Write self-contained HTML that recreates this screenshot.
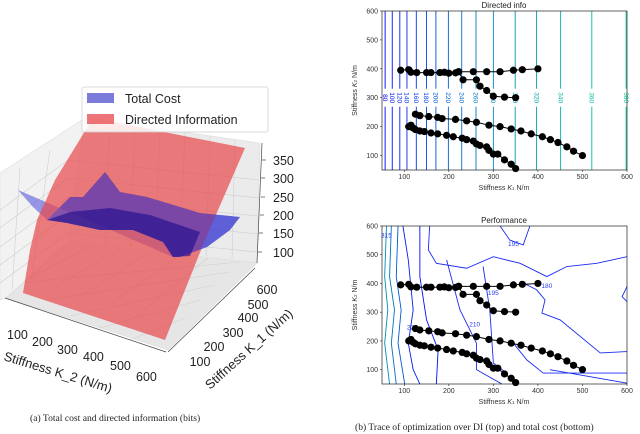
<!DOCTYPE html>
<html><head><meta charset="utf-8"><style>
body{margin:0;background:#fff;width:640px;height:434px;overflow:hidden}
svg{display:block}
text{font-family:"Liberation Sans","DejaVu Sans",sans-serif}
.cap{font-family:"Liberation Serif",serif;font-size:9.6px;fill:#222}
.tk{font-size:7px;fill:#333}
</style></head><body>
<svg id="s" width="640" height="434" viewBox="0 0 640 434">
<g>
 <polygon points="0,173 85,118 68,242 7,297 0,300" fill="#f2f2f2" stroke="#ddd" stroke-width="0.6"/>
 <polygon points="85,118 260,143 257,263 68,242" fill="#ebebeb" stroke="#ddd" stroke-width="0.6"/>
 <polygon points="7,298 68,242 257,263 168,350" fill="#e6e6e6" stroke="#ddd" stroke-width="0.6"/>
 <g stroke="#cfcfcf" stroke-width="0.6" fill="none">
  <line x1="110" y1="122" x2="105" y2="244"/><line x1="135" y1="125" x2="130" y2="247"/><line x1="160" y1="129" x2="155" y2="250"/><line x1="185" y1="132" x2="180" y2="253"/><line x1="210" y1="136" x2="206" y2="256"/><line x1="235" y1="140" x2="232" y2="259"/>
  <line x1="68" y1="160" x2="259" y2="180"/><line x1="68" y1="178" x2="259" y2="198"/><line x1="68" y1="197" x2="258" y2="216"/><line x1="68" y1="215" x2="258" y2="234"/><line x1="68" y1="233" x2="257" y2="252"/>
  <line x1="0" y1="210" x2="68" y2="160"/><line x1="0" y1="228" x2="68" y2="178"/><line x1="0" y1="247" x2="68" y2="197"/><line x1="0" y1="265" x2="68" y2="215"/><line x1="0" y1="283" x2="68" y2="233"/>
  <line x1="50" y1="150" x2="32" y2="275"/><line x1="20" y1="168" x2="12" y2="290"/>
  <line x1="30" y1="278" x2="90" y2="246"/><line x1="56" y1="286" x2="120" y2="249"/><line x1="82" y1="295" x2="150" y2="252"/><line x1="108" y1="306" x2="180" y2="255"/><line x1="134" y1="318" x2="208" y2="258"/>
  <line x1="25" y1="282" x2="240" y2="262"/><line x1="45" y1="300" x2="230" y2="272"/><line x1="70" y1="316" x2="215" y2="285"/><line x1="100" y1="328" x2="200" y2="300"/><line x1="130" y1="340" x2="185" y2="318"/>
 </g>
 <polygon points="18,190 33,207 47,220 70,197 83,197 105,172 120,192 147,197 200,213 240,217 230,230 207,247 180,257 173,257" fill="#4a4ad8" fill-opacity="0.55"/>
 <polygon points="93,118 245,148 205,240 165,340 23,293 30,250 37,220 55,180" fill="#e8474a" fill-opacity="0.7"/>
 <polygon points="47,220 70,197 83,197 105,172 120,192 147,197 200,213 240,217 230,230 207,247 180,257 173,257 163,242 133,230 100,230 67,223" fill="#3535d0" fill-opacity="0.55"/>
 <polygon points="47,220 67,223 100,230 133,230 163,242 173,257 190,256 200,232 150,215 110,208 70,212" fill="#1a0a8a" fill-opacity="0.6"/>
 <g stroke="#444" stroke-width="0.7">
  <line x1="262" y1="143" x2="257" y2="263"/><line x1="5" y1="298" x2="166" y2="352"/><line x1="168" y1="352" x2="255" y2="268"/>
  <line x1="262" y1="160" x2="266" y2="160"/><line x1="261" y1="178" x2="265" y2="178"/><line x1="261" y1="197" x2="265" y2="197"/><line x1="260" y1="215" x2="264" y2="215"/><line x1="259" y1="233" x2="263" y2="233"/><line x1="258" y1="252" x2="262" y2="252"/>
 </g>
 <g font-size="12.5" fill="#222">
  <text x="273" y="165">350</text><text x="273" y="183">300</text><text x="273" y="202">250</text><text x="273" y="220">200</text><text x="273" y="238">150</text><text x="273" y="257">100</text>
 </g>
 <g font-size="12.5" fill="#222">
  <text x="7" y="339">100</text><text x="32" y="346">200</text><text x="57" y="354">300</text><text x="83" y="361">400</text><text x="110" y="370">500</text><text x="136" y="381">600</text>
 </g>
 <g font-size="12.5" fill="#222" text-anchor="middle">
  <text x="267" y="294">600</text><text x="258" y="309">500</text><text x="248" y="322">400</text><text x="233" y="337">300</text><text x="214" y="351">200</text><text x="200" y="366">100</text>
 </g>
 <text font-size="13" fill="#222" transform="translate(3,360) rotate(17)">Stiffness K_2 (N/m)</text>
 <text font-size="13" fill="#222" transform="translate(210,390) rotate(-42)">Stiffness K_1 (N/m)</text>
 <g>
  <rect x="82" y="87" width="186" height="45" rx="2" fill="#fff" fill-opacity="0.85" stroke="#ccc" stroke-width="0.7"/>
  <rect x="87" y="93" width="27" height="10" fill="#5a5ad0" fill-opacity="0.8"/>
  <text x="125" y="103" font-size="12.5" fill="#222">Total Cost</text>
  <rect x="87" y="114" width="27" height="10" fill="#e8474a" fill-opacity="0.75"/>
  <text x="125" y="124" font-size="12.5" fill="#222">Directed Information</text>
 </g>
</g>
<text class="cap" x="30" y="421">(a)  Total cost and directed information (bits)</text>
<text class="cap" x="355" y="430">(b) Trace of optimization over DI (top) and total cost (bottom)</text>
<g id="top"></g>
<g id="bot"></g>
</svg>
<script>
const topLevels=[57,73,90,106,127,150,171,199,229,261,300,349,397,451,521,598];
const topLabels=["80","100","120","140","160","180","200","220","240","260","280","300","320","340","360","380"];
const traceA=[[92,395],[110,397],[115,388],[128,387],[150,387],[160,387],[180,387],[190,388],[200,385],[215,386],[222,390],[255,390],[285,390],[315,390],[345,395],[365,397],[400,400]];
const traceB=[[222,390],[232,362],[262,362],[270,340],[285,325],[300,305],[325,302],[350,300]];
const traceC=[[125,243],[135,238],[155,235],[175,232],[185,228],[215,225],[240,220],[262,215],[290,205],[315,200],[340,192],[362,185],[385,175],[410,165],[428,155],[445,145],[465,130],[480,115],[500,100]];
const traceD=[[110,200],[115,205],[120,195],[125,190],[135,185],[145,183],[160,178],[175,175],[195,170],[210,165],[230,160],[240,155],[255,150],[262,140],[270,135],[285,130],[290,118],[300,105],[310,105],[325,85],[340,70],[350,55]];
const perfLines=[
 [[60,600],[56,424],[63,308],[56,192],[67,50]],
 [[71,600],[67,424],[78,308],[71,192],[82,50]],
 [[86,600],[82,424],[93,308],[86,192],[101,50]],
 [[97,600],[109,482],[120,308],[109,192],[120,100],[135,50]],
 [[135,600],[135,424],[150,273],[176,169],[172,50]],
 [[157,600],[154,517],[172,470],[240,453],[300,493],[360,470],[420,424],[465,459],[532,470],[600,493]],
 [[360,407],[397,378],[416,343],[409,297],[450,273],[540,158],[600,163]],
 [[195,482],[225,308],[262,192],[262,100],[319,50]],
 [[277,459],[292,308],[300,123],[330,88]],
 [[345,192],[375,134],[412,88],[600,88]],
 [[427,100],[600,53]],
 [[600,389],[589,354],[600,337]],
 [[315,600],[337,551],[367,534],[382,600]]
];
const perfColors=[0.55,0.45,0.35,0.12,0.05,0,0,0,0,0,0,0,0];
const perfLabels=[["315",60,560],["195",345,530],["180",420,385],["210",258,250],["225",118,240],["195",300,360]];
const ticks=[100,200,300,400,500,600];
const NS="http://www.w3.org/2000/svg";
function mk(p,t,a){const e=document.createElementNS(NS,t);for(const k in a)e.setAttribute(k,a[k]);p.appendChild(e);return e;}
const sx=v=>382+(v-50)/550*245;
function winter(f){return `rgb(0,${Math.round(f*255)},${Math.round(255-f*127)})`;}
function axes(g,y0,y1,title,sy){
 const ax=mk(g,'rect',{x:382,y:y0,width:245,height:y1-y0,fill:'none',stroke:'#222','stroke-width':0.7});
 
 ticks.forEach(t=>{
  mk(g,'line',{x1:sx(t),x2:sx(t),y1:y1,y2:y1+2,stroke:'#222','stroke-width':0.6});
  const a=mk(g,'text',{x:sx(t),y:y1+9,'text-anchor':'middle',class:'tk'});a.textContent=t;
  
  mk(g,'line',{x1:380,x2:382,y1:sy(t),y2:sy(t),stroke:'#222','stroke-width':0.6});
  const b=mk(g,'text',{x:378,y:sy(t)+2.5,'text-anchor':'end',class:'tk'});b.textContent=t;
  
 });
 const tt=mk(g,'text',{x:504,y:y0-3,'text-anchor':'middle','font-size':8,fill:'#222'});tt.textContent=title;
 
 const xl=mk(g,'text',{x:504,y:y1+20,'text-anchor':'middle',class:'tk'});xl.innerHTML='Stiffness <tspan font-style="italic">K</tspan><tspan font-size="4.5">1</tspan> N/m';
 
 const yl=mk(g,'text',{transform:`translate(357,${(y0+y1)/2}) rotate(-90)`,'text-anchor':'middle',class:'tk'});yl.innerHTML='Stiffness <tspan font-style="italic">K</tspan><tspan font-size="4.5">2</tspan> N/m';
 
}
function traces(g,sy){
 [traceA,traceB,traceC,traceD].forEach(tr=>{
  const pl=mk(g,'polyline',{points:tr.map(p=>sx(p[0])+','+sy(p[1])).join(' '),fill:'none',stroke:'#000','stroke-width':1});
  
  tr.forEach(p=>{const c=mk(g,'circle',{cx:sx(p[0]),cy:sy(p[1]),r:3.6,fill:'#000'});
   });
 });
}
const gt=document.getElementById('top');
const syt=v=>170-(v-50)/550*159;
topLevels.forEach((lv,i)=>{
 const col=winter(i/(topLevels.length-1)*0.8);
 const ly=syt(300);
 const l1=mk(gt,'line',{x1:sx(lv),x2:sx(lv),y1:syt(600),y2:ly-9,stroke:col,'stroke-width':0.9});
 
 const l2=mk(gt,'line',{x1:sx(lv),x2:sx(lv),y1:ly+9,y2:syt(50),stroke:col,'stroke-width':0.9});
 
 const t=mk(gt,'text',{transform:`translate(${sx(lv)-2.3},${ly}) rotate(90)`,'text-anchor':'middle','font-size':6.5,fill:col});t.textContent=topLabels[i];
 
});
axes(gt,11,170,'Directed info',syt);
traces(gt,syt);
const gb=document.getElementById('bot');
const syb=v=>384-(v-50)/550*158;
perfLines.forEach((ln,i)=>{
 const pl=mk(gb,'polyline',{points:ln.map(p=>sx(p[0])+','+syb(p[1])).join(' '),fill:'none',stroke:perfColors[i]>0?winter(perfColors[i]):'#1a2cf0','stroke-width':0.9});
 
});
perfLabels.forEach(l=>{const t=mk(gb,'text',{x:sx(l[1]),y:syb(l[2]),'font-size':6.5,fill:'#2a3cf0','text-anchor':'middle'});t.textContent=l[0];
 });
axes(gb,226,384,'Performance',syb);
traces(gb,syb);
</script>
</body></html>
